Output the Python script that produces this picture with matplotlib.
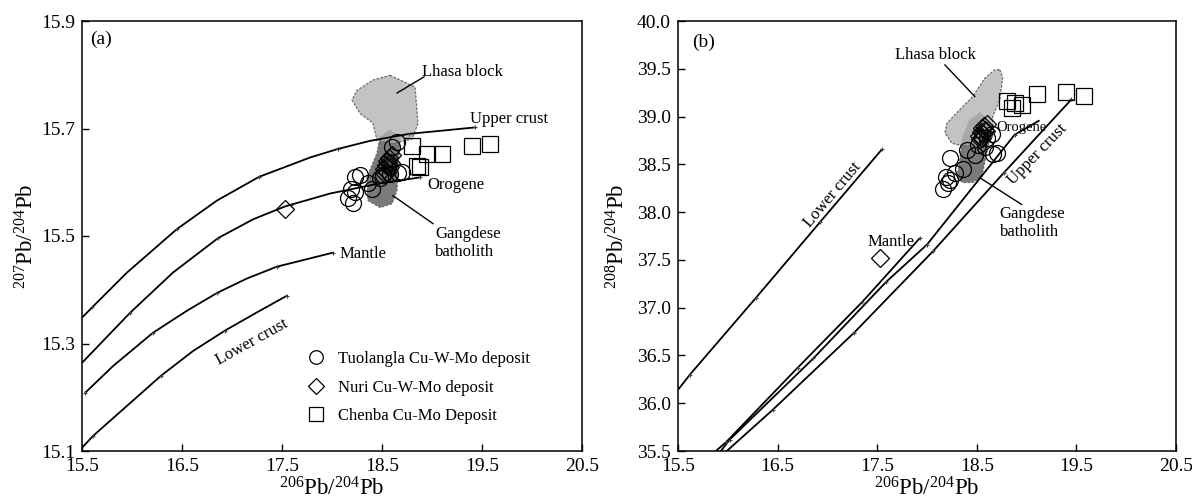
import matplotlib
matplotlib.use('Agg')
import matplotlib.pyplot as plt
from matplotlib.patches import Polygon

plt.rcParams['font.family'] = ['Liberation Serif', 'DejaVu Serif']
plt.rcParams['mathtext.fontset'] = 'custom'
plt.rcParams['mathtext.rm'] = 'Liberation Serif'
plt.rcParams['mathtext.it'] = 'Liberation Serif:italic'

# ---------------- data ----------------
# Tuolangla Cu-W-Mo deposit
tuo_206 = [18.16, 18.19, 18.21, 18.23, 18.28, 18.23, 18.36, 18.40, 18.48, 18.51, 18.58, 18.60, 18.65, 18.66, 18.70]
tuo_207 = [15.570, 15.588, 15.562, 15.609, 15.613, 15.581, 15.598, 15.588, 15.607, 15.613, 15.616, 15.665, 15.674, 15.618, 15.620]
tuo_208 = [38.24, 38.37, 38.30, 38.57, 38.41, 38.34, 38.45, 38.65, 38.60, 38.70, 38.68, 38.78, 38.82, 38.61, 38.62]

# Nuri Cu-W-Mo deposit
nuri_206 = [17.53, 18.52, 18.54, 18.55, 18.56, 18.57, 18.58, 18.55, 18.53, 18.59, 18.60]
nuri_207 = [15.550, 15.625, 15.632, 15.640, 15.636, 15.645, 15.628, 15.620, 15.615, 15.635, 15.650]
nuri_208 = [37.52, 38.80, 38.84, 38.88, 38.82, 38.90, 38.86, 38.78, 38.76, 38.85, 38.92]

# Chenba Cu-Mo deposit
chen_206 = [18.80, 18.85, 18.88, 18.95, 19.10, 19.40, 19.58]
chen_207 = [15.667, 15.631, 15.628, 15.652, 15.652, 15.667, 15.672]
chen_208 = [39.16, 39.09, 39.14, 39.12, 39.24, 39.26, 39.22]

# Zartman & Doe evolution curves, 207Pb/204Pb vs 206Pb/204Pb
uc_a_x = [15.50, 15.60, 15.95, 16.45, 16.85, 17.27, 17.78, 18.06, 18.38, 18.77, 19.43]
uc_a_y = [15.348, 15.367, 15.432, 15.513, 15.566, 15.610, 15.646, 15.662, 15.677, 15.690, 15.702]
or_a_x = [15.50, 15.98, 16.41, 16.86, 17.21, 17.53, 17.98, 18.48, 18.88]
or_a_y = [15.264, 15.357, 15.432, 15.496, 15.531, 15.555, 15.579, 15.598, 15.609]
ma_a_x = [15.53, 15.81, 16.21, 16.55, 16.85, 17.15, 17.45, 18.01]
ma_a_y = [15.208, 15.258, 15.320, 15.361, 15.394, 15.421, 15.443, 15.469]
lc_a_x = [15.50, 15.61, 15.95, 16.29, 16.61, 16.93, 17.25, 17.55]
lc_a_y = [15.106, 15.128, 15.184, 15.240, 15.286, 15.324, 15.358, 15.389]

# tick marks (age steps) on the curves, panel a
uc_a_tx = [15.60, 16.45, 17.27, 18.06, 18.77, 19.43]
uc_a_ty = [15.367, 15.513, 15.610, 15.662, 15.690, 15.702]
or_a_tx = [15.98, 16.86, 17.59, 18.88]
or_a_ty = [15.357, 15.496, 15.558, 15.609]
ma_a_tx = [15.53, 16.21, 16.85, 17.45, 18.01]
ma_a_ty = [15.208, 15.320, 15.394, 15.443, 15.469]
lc_a_tx = [15.61, 16.29, 16.93, 17.55]
lc_a_ty = [15.128, 15.240, 15.324, 15.389]

# 208Pb/204Pb vs 206Pb/204Pb curves
lc_b_x = [15.50, 15.62, 16.28, 16.93, 17.55]
lc_b_y = [36.14, 36.30, 37.10, 37.90, 38.66]
ma_b_x = [15.88, 15.98, 16.70, 17.35, 17.93]
ma_b_y = [35.50, 35.59, 36.37, 37.06, 37.73]
or_b_x = [15.93, 16.02, 16.86, 17.59, 18.00, 18.88, 19.13]
or_b_y = [35.50, 35.62, 36.47, 37.27, 37.66, 38.81, 38.96]
uc_b_x = [15.99, 16.45, 17.27, 18.06, 18.77, 19.45]
uc_b_y = [35.50, 35.93, 36.74, 37.59, 38.41, 39.18]

# fields
lhasa_a_x = [18.58, 18.83, 18.86, 18.80, 18.60, 18.45, 18.41, 18.28, 18.20, 18.25, 18.41]
lhasa_a_y = [15.799, 15.777, 15.710, 15.680, 15.672, 15.678, 15.710, 15.728, 15.753, 15.771, 15.790]
gang_a_x = [18.58, 18.68, 18.66, 18.65, 18.60, 18.48, 18.36, 18.35, 18.45, 18.48]
gang_a_y = [15.697, 15.684, 15.622, 15.585, 15.560, 15.553, 15.566, 15.609, 15.654, 15.684]
lhasa_b_x = [18.73, 18.76, 18.73, 18.66, 18.66, 18.60, 18.33, 18.25, 18.18, 18.20, 18.30, 18.46, 18.58, 18.68]
lhasa_b_y = [39.49, 39.41, 39.17, 39.00, 38.80, 38.69, 38.70, 38.72, 38.83, 38.93, 39.04, 39.21, 39.40, 39.49]
gang_b_x = [18.53, 18.66, 18.61, 18.55, 18.46, 18.36, 18.30, 18.33, 18.36, 18.43]
gang_b_y = [39.04, 38.91, 38.68, 38.37, 38.31, 38.31, 38.36, 38.55, 38.79, 38.96]

x_ticks = [15.5, 16.5, 17.5, 18.5, 19.5, 20.5]
ya_ticks = [15.1, 15.3, 15.5, 15.7, 15.9]
yb_ticks = [35.5, 36.0, 36.5, 37.0, 37.5, 38.0, 38.5, 39.0, 39.5, 40.0]

# ---------------- figure ----------------
fig = plt.figure(figsize=(11.92, 5.03), dpi=100)
axa = fig.add_axes([82/1192, 1-451/503, 500/1192, 430/503])
axb = fig.add_axes([678/1192, 1-451/503, 498/1192, 430/503])

LH_FC, LH_A = '#b4b4b4', 0.8
GA_FC = '#7a7a7a'
EDGE = '#6a6a6a'


def field(ax, xs, ys, fc, alpha, z):
    p = Polygon(list(zip(xs, ys)), closed=True, facecolor=fc, alpha=alpha,
                edgecolor='none', zorder=z)
    ax.add_patch(p)
    e = Polygon(list(zip(xs, ys)), closed=True, facecolor='none',
                edgecolor=EDGE, lw=0.9, linestyle=(0, (2, 1.2)), zorder=z + 0.1)
    ax.add_patch(e)


def curve(ax, xs, ys, tx, ty):
    ax.plot(xs, ys, color='black', lw=1.3, zorder=3, solid_capstyle='butt',
            solid_joinstyle='round')
    ax.plot(tx, ty, linestyle='none', marker='+', ms=3.5, mew=0.8,
            color='#444444', zorder=3.5)


mk = dict(linestyle='none', markerfacecolor='none', markeredgecolor='black',
          markeredgewidth=0.9, zorder=5)

for ax in (axa, axb):
    ax.set_xlim(15.5, 20.5)
    ax.set_xticks(x_ticks)
    ax.set_xticklabels([f'{v:.1f}' for v in x_ticks])
    ax.tick_params(direction='in', length=5, width=1, top=False, right=False,
                   labelsize=14, pad=5)
    for s in ax.spines.values():
        s.set_linewidth(1.1)
    ax.set_xlabel('$^{206}$Pb/$^{204}$Pb', fontsize=16.5)
    ax.xaxis.set_label_coords(0.5, -0.06)

# ---- panel a ----
axa.set_ylim(15.1, 15.9)
axa.set_yticks(ya_ticks)
axa.set_yticklabels([f'{v:.1f}' for v in ya_ticks])
axa.set_ylabel('$^{207}$Pb/$^{204}$Pb', fontsize=16.5)
axa.yaxis.set_label_coords(-0.086, 0.5)

field(axa, gang_a_x, gang_a_y, GA_FC, 1.0, 1)
field(axa, lhasa_a_x, lhasa_a_y, LH_FC, LH_A, 2)
curve(axa, uc_a_x, uc_a_y, uc_a_tx, uc_a_ty)
curve(axa, or_a_x, or_a_y, or_a_tx, or_a_ty)
curve(axa, ma_a_x, ma_a_y, ma_a_tx, ma_a_ty)
curve(axa, lc_a_x, lc_a_y, lc_a_tx, lc_a_ty)

h1, = axa.plot(tuo_206, tuo_207, marker='o', ms=11.5, label='Tuolangla Cu-W-Mo deposit', **mk)
h2, = axa.plot(nuri_206, nuri_207, marker='D', ms=9, label='Nuri Cu-W-Mo deposit', **mk)
h3, = axa.plot(chen_206, chen_207, marker='s', ms=12, label='Chenba Cu-Mo Deposit', **mk)

leg = axa.legend(handles=[h1, h2, h3], loc='upper left', bbox_to_anchor=(0.452, 0.232),
                 frameon=False, fontsize=12, borderpad=0, borderaxespad=0,
                 handlelength=1.0, handletextpad=0.8, labelspacing=0.75,
                 numpoints=1, markerscale=0.85)

tf = 12
axa.text(15.58, 15.865, '(a)', fontsize=14, va='center', ha='left')
axa.text(19.38, 15.717, 'Upper crust', fontsize=tf, va='center', ha='left')
axa.text(18.95, 15.594, 'Orogene', fontsize=tf, va='center', ha='left')
axa.text(18.08, 15.467, 'Mantle', fontsize=tf, va='center', ha='left')
axa.text(17.20, 15.302, 'Lower crust', fontsize=tf, va='center', ha='center', rotation=29)
axa.text(18.90, 15.805, 'Lhasa block', fontsize=tf, va='center', ha='left')
axa.plot([18.92, 18.65], [15.796, 15.766], color='black', lw=1.0, zorder=6)
axa.text(19.03, 15.518, 'Gangdese\nbatholith', fontsize=tf, va='top', ha='left',
         linespacing=1.1)
axa.plot([18.61, 19.01], [15.575, 15.523], color='black', lw=1.0, zorder=6)

# ---- panel b ----
axb.set_ylim(35.5, 40.0)
axb.set_yticks(yb_ticks)
axb.set_yticklabels([f'{v:.1f}' for v in yb_ticks])
axb.set_ylabel('$^{208}$Pb/$^{204}$Pb', fontsize=16.5)
axb.yaxis.set_label_coords(-0.098, 0.5)

field(axb, gang_b_x, gang_b_y, GA_FC, 1.0, 1)
field(axb, lhasa_b_x, lhasa_b_y, LH_FC, LH_A, 2)
curve(axb, lc_b_x, lc_b_y, lc_b_x[1:], lc_b_y[1:])
curve(axb, ma_b_x, ma_b_y, ma_b_x[1:], ma_b_y[1:])
curve(axb, or_b_x, or_b_y, or_b_x[1:-1], or_b_y[1:-1])
curve(axb, uc_b_x, uc_b_y, uc_b_x[1:], uc_b_y[1:])

axb.plot(tuo_206, tuo_208, marker='o', ms=11.5, **mk)
axb.plot(nuri_206, nuri_208, marker='D', ms=9, **mk)
axb.plot(chen_206, chen_208, marker='s', ms=12, **mk)

axb.text(15.64, 39.78, '(b)', fontsize=14, va='center', ha='left')
axb.text(17.68, 39.64, 'Lhasa block', fontsize=tf, va='center', ha='left')
axb.plot([18.18, 18.48], [39.54, 39.21], color='black', lw=1.0, zorder=6)
axb.text(18.70, 38.89, 'Orogene', fontsize=10.5, va='center', ha='left', zorder=7)
axb.text(19.11, 38.60, 'Upper crust', fontsize=tf, va='center', ha='center', rotation=46)
axb.text(17.64, 37.69, 'Mantle', fontsize=tf, va='center', ha='center')
axb.text(17.05, 38.18, 'Lower crust', fontsize=tf, va='center', ha='center', rotation=50)
axb.text(18.73, 38.06, 'Gangdese\nbatholith', fontsize=tf, va='top', ha='left',
         linespacing=1.1)
axb.plot([18.53, 18.95], [38.36, 38.08], color='black', lw=1.0, zorder=6)

fig.savefig('out.png', dpi=100)
